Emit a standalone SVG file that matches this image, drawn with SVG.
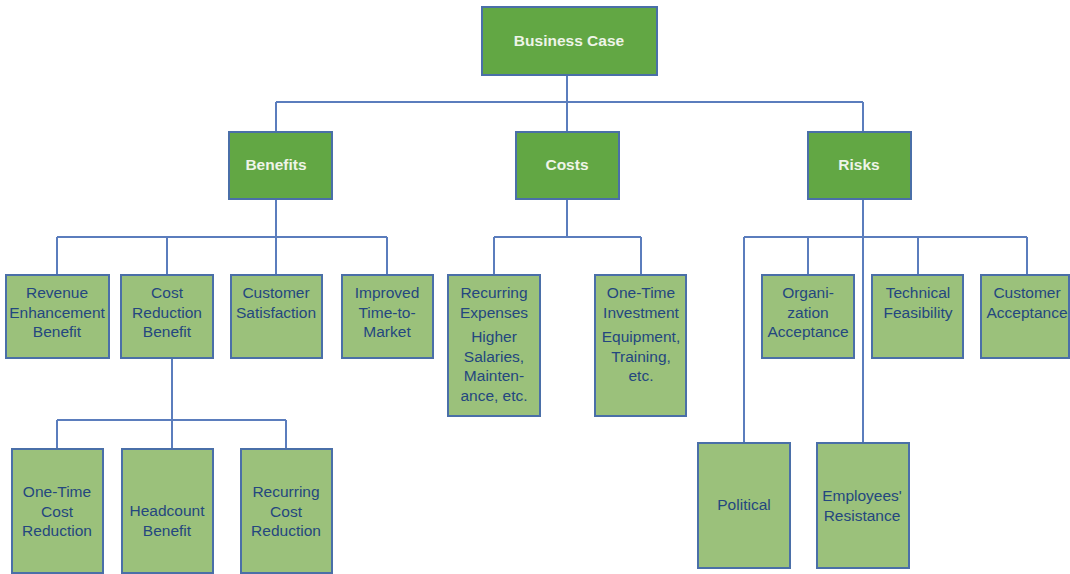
<svg xmlns="http://www.w3.org/2000/svg" width="1070" height="574" viewBox="0 0 1070 574">
<style>
.hd{fill:#62a744;stroke:#4a6fa8;stroke-width:2}
.lf{fill:#9bc17b;stroke:#4a6fa8;stroke-width:2}
.ht{font-family:"Liberation Sans",Arial,sans-serif;font-weight:bold;font-size:15.5px;fill:#eef4e8;text-anchor:middle}
.lt{font-family:"Liberation Sans",Arial,sans-serif;font-size:15.5px;fill:#24477f;text-anchor:middle}
.cn{fill:none;stroke:#5b7dbd;stroke-width:2}
</style>
<rect width="1070" height="574" fill="#ffffff"/>
<g id="connectors">
<path class="cn" d="M567 75V102M276 102H863M276 102V132M567 102V132M863 102V132"/>
<path class="cn" d="M276 199V237M57 237H387M57 237V275M167 237V275M276 237V275M387 237V275"/>
<path class="cn" d="M567 199V237M494 237H641M494 237V275M641 237V275"/>
<path class="cn" d="M863 199V443M744 237H1027M744 237V443M808 237V275M918 237V275M1027 237V275"/>
<path class="cn" d="M172 358V420M57 420H286M57 420V449M172 420V449M286 420V449"/>
</g>
<g id="business-case"><rect class="hd" x="482" y="7" width="175" height="68"/><text class="ht" x="569" y="46">Business Case</text></g>
<g id="benefits"><rect class="hd" x="229" y="132" width="103" height="67"/><text class="ht" x="276" y="170">Benefits</text></g>
<g id="costs"><rect class="hd" x="516" y="132" width="103" height="67"/><text class="ht" x="567" y="170">Costs</text></g>
<g id="risks"><rect class="hd" x="808" y="132" width="103" height="67"/><text class="ht" x="859" y="170">Risks</text></g>
<g id="revenue"><rect class="lf" x="6" y="275" width="103" height="83"/><text class="lt" x="57" y="298">Revenue<tspan x="57" dy="19.5">Enhancement</tspan><tspan x="57" dy="19.5">Benefit</tspan></text></g>
<g id="cost-reduction"><rect class="lf" x="121" y="275" width="92" height="83"/><text class="lt" x="167" y="298">Cost<tspan x="167" dy="19.5">Reduction</tspan><tspan x="167" dy="19.5">Benefit</tspan></text></g>
<g id="customer-satisfaction"><rect class="lf" x="231" y="275" width="91" height="83"/><text class="lt" x="276" y="298">Customer<tspan x="276" dy="19.5">Satisfaction</tspan></text></g>
<g id="time-to-market"><rect class="lf" x="342" y="275" width="91" height="83"/><text class="lt" x="387" y="298">Improved<tspan x="387" dy="19.5">Time-to-</tspan><tspan x="387" dy="19.5">Market</tspan></text></g>
<g id="recurring-expenses"><rect class="lf" x="448" y="275" width="92" height="141"/><text class="lt" x="494" y="298">Recurring<tspan x="494" dy="20">Expenses</tspan><tspan x="494" dy="24">Higher</tspan><tspan x="494" dy="19.5">Salaries,</tspan><tspan x="494" dy="19.5">Mainten-</tspan><tspan x="494" dy="19.5">ance, etc.</tspan></text></g>
<g id="one-time-investment"><rect class="lf" x="595" y="275" width="91" height="141"/><text class="lt" x="641" y="298">One-Time<tspan x="641" dy="20">Investment</tspan><tspan x="641" dy="24">Equipment,</tspan><tspan x="641" dy="19.5">Training,</tspan><tspan x="641" dy="19.5">etc.</tspan></text></g>
<g id="organization-acceptance"><rect class="lf" x="762" y="275" width="92" height="83"/><text class="lt" x="808" y="298">Organi-<tspan x="808" dy="19.5">zation</tspan><tspan x="808" dy="19.5">Acceptance</tspan></text></g>
<g id="technical-feasibility"><rect class="lf" x="872" y="275" width="91" height="83"/><text class="lt" x="918" y="298">Technical<tspan x="918" dy="19.5">Feasibility</tspan></text></g>
<g id="customer-acceptance"><rect class="lf" x="981" y="275" width="88" height="83"/><text class="lt" x="1027" y="298">Customer<tspan x="1027" dy="19.5">Acceptance</tspan></text></g>
<g id="political"><rect class="lf" x="698" y="443" width="92" height="125"/><text class="lt" x="744" y="510">Political</text></g>
<g id="employees-resistance"><rect class="lf" x="817" y="443" width="92" height="125"/><text class="lt" x="862" y="501">Employees'<tspan x="862" dy="19.5">Resistance</tspan></text></g>
<g id="one-time-cost-reduction"><rect class="lf" x="12" y="449" width="91" height="124"/><text class="lt" x="57" y="497">One-Time<tspan x="57" dy="19.5">Cost</tspan><tspan x="57" dy="19.5">Reduction</tspan></text></g>
<g id="headcount-benefit"><rect class="lf" x="122" y="449" width="91" height="124"/><text class="lt" x="167" y="516">Headcount<tspan x="167" dy="19.5">Benefit</tspan></text></g>
<g id="recurring-cost-reduction"><rect class="lf" x="241" y="449" width="91" height="124"/><text class="lt" x="286" y="497">Recurring<tspan x="286" dy="19.5">Cost</tspan><tspan x="286" dy="19.5">Reduction</tspan></text></g>
</svg>
